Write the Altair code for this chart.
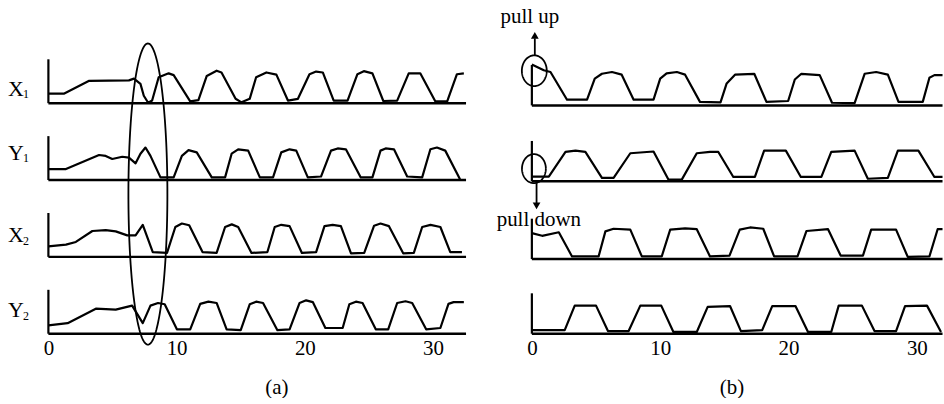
import numpy as np
import pandas as pd
import altair as alt

FONT = "Liberation Serif"
ROWS = ["X1", "Y1", "X2", "Y2"]

# ---------------- (a) traces: breakpoints (time, normalised level) ----------------
a_x1_t = [0, 1.24, 3.18, 6.28, 6.67, 7.18, 7.44, 7.78, 8.09, 8.6, 9.38, 9.77, 11.06, 11.7,
          12.35, 13.12, 13.5, 14.6, 15.06, 15.7, 16.2, 17.0, 17.78, 18.68, 19.46, 20.36, 20.88,
          21.4, 22.25, 23.33, 24.1, 24.6, 25.27, 26.12, 27.2, 28.1, 29.0, 30.18, 31.1, 31.86, 32.4]
a_x1_v = [0.22, 0.22, 0.51, 0.52, 0.56, 0.44, 0.17, 0.01, 0.06, 0.59, 0.68, 0.64, 0.04, 0.07,
          0.62, 0.74, 0.70, 0.10, 0.02, 0.10, 0.59, 0.70, 0.65, 0.06, 0.10, 0.66, 0.72,
          0.70, 0.06, 0.06, 0.66, 0.73, 0.68, 0.05, 0.06, 0.68, 0.68, 0.04, 0.04, 0.66, 0.68]

a_y1_t = [0, 1.37, 3.95, 4.47, 4.98, 5.76, 6.28, 6.8, 7.18, 7.57, 7.96, 8.74, 9.77, 10.41,
          10.93, 11.57, 12.74, 13.78, 14.29, 14.8, 15.58, 16.49, 17.52, 18.16, 18.81, 19.33,
          20.23, 21.26, 22.04, 22.56, 23.2, 24.36, 25.27, 25.9, 26.3, 26.95, 27.98, 29.15,
          29.79, 30.3, 30.95, 32.1]
a_y1_v = [0.25, 0.25, 0.57, 0.55, 0.48, 0.53, 0.51, 0.38, 0.60, 0.74, 0.55, 0.06, 0.06, 0.55,
          0.68, 0.63, 0.06, 0.06, 0.60, 0.70, 0.67, 0.06, 0.06, 0.63, 0.70, 0.67,
          0.06, 0.08, 0.67, 0.72, 0.70, 0.06, 0.06, 0.67, 0.72, 0.70, 0.08, 0.06,
          0.70, 0.74, 0.67, 0.02]

a_x2_t = [0, 1.37, 2.14, 3.43, 4.47, 5.25, 6.15, 6.8, 7.36, 8.14, 9.25, 9.9, 10.41, 10.98,
          12.02, 13.12, 13.78, 14.3, 14.8, 15.84, 17.08, 17.65, 18.16, 18.81, 19.77, 20.88,
          21.53, 22.17, 22.81, 23.6, 24.63, 25.4, 25.9, 26.56, 27.67, 28.5, 29.15, 29.8,
          30.57, 31.34, 32.25]
a_x2_v = [0.24, 0.28, 0.34, 0.59, 0.61, 0.58, 0.49, 0.49, 0.73, 0.11, 0.09, 0.68, 0.76, 0.72,
          0.11, 0.09, 0.68, 0.74, 0.68, 0.09, 0.11, 0.68, 0.73, 0.70, 0.09, 0.11,
          0.70, 0.73, 0.70, 0.08, 0.09, 0.71, 0.76, 0.70, 0.08, 0.09, 0.68, 0.73,
          0.68, 0.11, 0.11]

a_y2_t = [0, 1.5, 3.7, 5.25, 6.53, 7.36, 7.96, 8.55, 9.07, 10.02, 11.06, 11.84, 12.48, 13.12,
          13.9, 15.0, 15.7, 16.2, 16.74, 17.86, 18.81, 19.59, 20.1, 20.62, 21.6, 22.95, 23.47,
          23.98, 24.5, 25.53, 26.5, 27.2, 27.85, 28.37, 29.46, 30.57, 31.2, 31.6, 32.4]
a_y2_v = [0.19, 0.24, 0.57, 0.55, 0.64, 0.24, 0.64, 0.70, 0.67, 0.10, 0.10, 0.68, 0.73, 0.70,
          0.10, 0.08, 0.67, 0.73, 0.70, 0.08, 0.10, 0.70, 0.76, 0.72, 0.13, 0.13, 0.67,
          0.73, 0.70, 0.10, 0.10, 0.70, 0.74, 0.70, 0.10, 0.13, 0.68, 0.72, 0.72]

# ---------------- (b) traces ----------------
b_x1_t = [0, 0.93, 1.45, 2.74, 4.3, 4.9, 5.46, 6.24, 7.0, 7.93, 9.48, 10.0, 10.5, 11.3, 11.94,
          13.1, 14.7, 15.18, 15.83, 17.33, 18.28, 19.97, 20.49, 21.0, 22.43, 23.39, 25.15,
          25.93, 26.83, 27.74, 28.57, 30.46, 30.98, 31.37, 32.0]
b_x1_v = [0.93, 0.80, 0.76, 0.13, 0.13, 0.61, 0.72, 0.76, 0.70, 0.13, 0.13, 0.61, 0.73, 0.76, 0.70,
          0.08, 0.07, 0.50, 0.70, 0.72, 0.08, 0.10, 0.59, 0.72, 0.69, 0.06, 0.05,
          0.72, 0.76, 0.70, 0.08, 0.08, 0.63, 0.69, 0.69]

b_y1_t = [0, 1.32, 2.62, 3.4, 4.17, 5.46, 6.37, 7.67, 9.48, 10.64, 11.68, 12.85, 13.88, 14.53,
          15.7, 17.38, 18.1, 19.79, 20.96, 22.56, 23.33, 25.15, 26.18, 27.74, 28.52, 30.12,
          31.37, 32.0]
b_y1_v = [0.11, 0.11, 0.67, 0.70, 0.67, 0.08, 0.08, 0.64, 0.68, 0.04, 0.04, 0.64, 0.67, 0.67,
          0.10, 0.10, 0.70, 0.70, 0.10, 0.10, 0.67, 0.70, 0.06, 0.08, 0.70, 0.70,
          0.10, 0.10]

b_x2_t = [0, 0.8, 2.1, 3.13, 5.2, 5.73, 6.37, 7.67, 8.57, 10.12, 10.78, 11.94, 12.85, 13.88,
          15.4, 16.2, 17.0, 18.03, 18.88, 20.7, 21.4, 23.08, 24.06, 25.8, 26.44, 28.38, 29.29,
          30.98, 31.62, 32.0]
b_x2_v = [0.59, 0.53, 0.61, 0.06, 0.06, 0.63, 0.69, 0.67, 0.06, 0.06, 0.67, 0.70, 0.68, 0.06,
          0.08, 0.67, 0.72, 0.69, 0.06, 0.06, 0.64, 0.68, 0.08, 0.08, 0.67, 0.67, 0.05,
          0.06, 0.68, 0.68]

b_y2_t = [0, 2.56, 3.34, 5.0, 5.93, 7.54, 8.45, 10.08, 11.03, 12.85, 13.7, 15.44, 16.29, 17.95,
          18.73, 20.54, 21.52, 23.33, 23.91, 25.72, 26.7, 28.38, 29.08, 30.79, 31.88]
b_y2_v = [0.08, 0.08, 0.64, 0.64, 0.06, 0.06, 0.64, 0.64, 0.04, 0.04, 0.61, 0.63, 0.06, 0.08,
          0.63, 0.63, 0.04, 0.04, 0.64, 0.64, 0.06, 0.06, 0.63, 0.64, 0.04]

tick_values = [0, 10, 20, 30]
row_letters = ["X", "Y", "X", "Y"]
row_subs = ["1", "1", "2", "2"]

# ---------------- layout ----------------
H = 334          # plot height in px
UNIT = 44        # px per level unit
Y_DOMAIN = [0, H / UNIT]

LAYOUT_A = dict(width=480, x_domain=[-3.774, 33.58], x_end=32.57,
                offsets={"X1": 5.25, "Y1": 3.5, "X2": 1.75, "Y2": 0.0}, axis_h=1.0,
                title="(a)", title_x=277)
LAYOUT_B = dict(width=464, x_domain=[-4.121, 31.96], x_end=32.0,
                offsets={"X1": 5.2, "Y1": 3.47, "X2": 1.7, "Y2": 0.0}, axis_h=0.92,
                title="(b)", title_x=253)

# row label placement for (a): (letter x, letter y, subscript x, subscript y)
label_pos = [(-2.53, 5.575, -1.75, 5.466),
             (-2.53, 4.125, -1.75, 4.0),
             (-2.53, 2.25, -1.75, 2.114),
             (-2.53, 0.545, -1.75, 0.41)]

# highlighted regions: (centre t, centre level, radius t, radius level)
ellipses_a = [(7.76, 3.18, 1.52, 3.43)]
ellipses_b = [(0.19, 5.99, 0.97, 0.35), (0.16, 3.76, 0.93, 0.33)]

# annotation texts and arrows in (b)
notes_b = pd.DataFrame({"t": [-0.155, 0.544], "y": [7.22, 2.59],
                        "label": ["pull up", "pull down"]})
arrow_lines_b = pd.DataFrame({"t": [0.23, 0.365], "y0": [6.34, 3.43], "y1": [6.727, 2.955]})
arrow_up_b = pd.DataFrame({"t": [0.23], "y": [6.795]})
arrow_down_b = pd.DataFrame({"t": [0.365], "y": [2.91]})


def trace_frame(series, offsets):
    recs = []
    for name, (t, v) in series.items():
        for ti, vi in zip(t, v):
            recs.append({"row": name, "t": ti, "y": vi + offsets[name]})
    return pd.DataFrame(recs)


def ellipse_frame(shapes):
    theta = np.linspace(0, 2 * np.pi, 181)
    recs = []
    for sid, (cx, cy, rx, ry) in enumerate(shapes):
        for k, a in enumerate(theta):
            recs.append({"sid": sid, "k": k, "t": cx + rx * np.cos(a), "y": cy + ry * np.sin(a)})
    return pd.DataFrame(recs)


def build_panel(series, lay, ellipses, extra_layers_fn=None, with_labels=False):
    xs = alt.Scale(domain=lay["x_domain"], nice=False, zero=False)
    ys = alt.Scale(domain=Y_DOMAIN, nice=False, zero=False)
    xax = alt.Axis(values=tick_values, domain=False, ticks=False, grid=False,
                   labelFont=FONT, labelFontSize=21, labelColor="black", labelPadding=4,
                   labelFlush=False, labelOverlap=False,
                   title=lay["title"], titleFont=FONT, titleFontSize=21,
                   titleFontWeight="normal", titleColor="black",
                   titleX=lay["title_x"], titleY=60, titleAlign="center",
                   titleBaseline="alphabetic", titleAngle=0)

    def X(field):
        return alt.X(field, type="quantitative", scale=xs, axis=xax)

    def Y(field):
        return alt.Y(field, type="quantitative", scale=ys, axis=None)

    off = lay["offsets"]
    traces = trace_frame(series, off)
    base = pd.DataFrame({"row": ROWS, "x0": [0.0] * 4, "x1": [lay["x_end"]] * 4,
                         "y": [off[r] for r in ROWS],
                         "y1": [off[r] + lay["axis_h"] for r in ROWS]})

    layers = [
        alt.Chart(base).mark_rule(color="black", strokeWidth=2.5).encode(
            x=X("x0"), x2=alt.X2("x1"), y=Y("y")),
        alt.Chart(base).mark_rule(color="black", strokeWidth=2.2).encode(
            x=X("x0"), y=Y("y"), y2=alt.Y2("y1")),
        alt.Chart(traces).mark_line(color="black", strokeWidth=2.2, strokeJoin="round").encode(
            x=X("t"), y=Y("y"), detail="row:N"),
        alt.Chart(ellipse_frame(ellipses)).mark_line(color="black", strokeWidth=1.8).encode(
            x=X("t"), y=Y("y"), detail="sid:N", order="k:Q"),
    ]

    if with_labels:
        letters = pd.DataFrame({"t": [p[0] for p in label_pos], "y": [p[1] for p in label_pos],
                                "label": row_letters})
        subs = pd.DataFrame({"t": [p[2] for p in label_pos], "y": [p[3] for p in label_pos],
                             "label": row_subs})
        layers.append(alt.Chart(letters).mark_text(font=FONT, fontSize=22, color="black",
                                                   align="center", baseline="middle").encode(
            x=X("t"), y=Y("y"), text="label:N"))
        layers.append(alt.Chart(subs).mark_text(font=FONT, fontSize=12, color="black",
                                                align="center", baseline="middle").encode(
            x=X("t"), y=Y("y"), text="label:N"))

    if extra_layers_fn is not None:
        layers.extend(extra_layers_fn(X, Y))

    return alt.layer(*layers).properties(width=lay["width"], height=H)


def arrows_and_notes(X, Y):
    return [
        alt.Chart(arrow_lines_b).mark_rule(color="black", strokeWidth=1.8).encode(
            x=X("t"), y=Y("y0"), y2=alt.Y2("y1")),
        alt.Chart(arrow_up_b).mark_point(shape="triangle-up", filled=True, size=60,
                                         color="black", opacity=1).encode(x=X("t"), y=Y("y")),
        alt.Chart(arrow_down_b).mark_point(shape="triangle-down", filled=True, size=60,
                                           color="black", opacity=1).encode(x=X("t"), y=Y("y")),
        alt.Chart(notes_b).mark_text(font=FONT, fontSize=21, color="black",
                                     align="center", baseline="middle").encode(
            x=X("t"), y=Y("y"), text="label:N"),
    ]


series_a = {"X1": (a_x1_t, a_x1_v), "Y1": (a_y1_t, a_y1_v),
            "X2": (a_x2_t, a_x2_v), "Y2": (a_y2_t, a_y2_v)}
series_b = {"X1": (b_x1_t, b_x1_v), "Y1": (b_y1_t, b_y1_v),
            "X2": (b_x2_t, b_x2_v), "Y2": (b_y2_t, b_y2_v)}

panel_a = build_panel(series_a, LAYOUT_A, ellipses_a, with_labels=True)
panel_b = build_panel(series_b, LAYOUT_B, ellipses_b, extra_layers_fn=arrows_and_notes)

chart = (
    alt.hconcat(panel_a, panel_b, spacing=0, bounds="flush")
    .properties(padding=0, background="white")
    .configure_view(stroke=None)
)

chart.save("out.html", embed_options={"renderer": "svg", "actions": False})
